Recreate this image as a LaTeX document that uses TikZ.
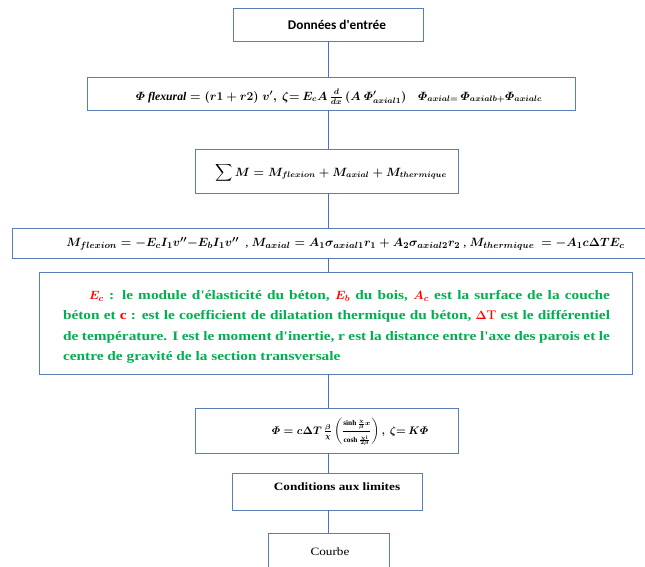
\documentclass[tikz,border=0pt]{standalone}
\usepackage{fontspec}
\usepackage{amsmath}
\setmainfont{Liberation Serif}
\newfontfamily\carlito{Carlito}
\newfontfamily\cambr[FakeStretch=1.18]{Liberation Serif}
\definecolor{bordc}{HTML}{5B7DB8}
\definecolor{linec}{HTML}{4472C4}
\definecolor{grn}{HTML}{00B050}
\definecolor{rd}{HTML}{FF0000}
\begin{document}
\begin{tikzpicture}[x=1pt,y=-1pt,
  box/.style={draw=bordc, line width=0.9pt, inner sep=0pt},
  conn/.style={draw=linec, line width=1pt},
  txt/.style={inner sep=0pt, font=\boldmath}]
\useasboundingbox (0,0) rectangle (645,567);
\fill[white] (0,0) rectangle (645,567);
\coordinate (axis) at (328,0);

% boxes
\node[box, minimum width=190pt, minimum height=33pt] (b1) at (328,24.5) {};
\node[box, minimum width=488pt, minimum height=33pt] (b2) at (331,93.5) {};
\node[box, minimum width=263pt, minimum height=44pt] (b3) at (326.5,171) {};
\node[box, minimum width=637pt, minimum height=30pt] (b4) at (331.3,243) {};
\node[box, minimum width=593pt, minimum height=102pt] (b5) at (335.5,323) {};
\node[box, minimum width=263pt, minimum height=45pt] (b6) at (326.5,430.5) {};
\node[box, minimum width=190pt, minimum height=37pt] (b7) at (327,491.5) {};
\node[box, minimum width=121pt, minimum height=47pt] (b8) at (328.5,556.5) {};

% connectors
\draw[conn] (b1.south -| axis) -- (b2.north -| axis);
\draw[conn] (b2.south -| axis) -- (b3.north -| axis);
\draw[conn] (b3.south -| axis) -- (b4.north -| axis);
\draw[conn] (b4.south -| axis) -- (b5.north -| axis);
\draw[conn] (b5.south -| axis) -- (b6.north -| axis);
\draw[conn] (b6.south -| axis) -- (b7.north -| axis);
\draw[conn] (b7.south -| axis) -- (b8.north -| axis);

% texts
\node[inner sep=0pt, font=\carlito\bfseries\fontsize{13.3}{15}\selectfont] (t1) at (337,25) {Données d'entrée};

\node[txt, font=\boldmath\fontsize{11.7}{13}\selectfont] (t2) at (339,97)
 {$\varPhi\ \mathit{flexural} = (r1 + r2)\; v',\ \zeta{=}\ E_cA\,\frac{d}{dx}\,(A\ \varPhi'_{axial1})\quad \varPhi_{axial=}\,\varPhi_{axialb+}\varPhi_{axialc}$};

\node[txt, font=\boldmath\fontsize{11.5}{13}\selectfont] (t3) at (331,173)
 {$\displaystyle\sum M = M_{flexion} + M_{axial} + M_{thermique}$};

\node[txt, font=\boldmath\fontsize{12.6}{14}\selectfont] (t4) at (345.5,244)
 {$M_{flexion} = -E_cI_1v''{-}E_bI_1v''$\ \ , $M_{axial} = A_1\sigma_{axial1}r_1 + A_2\sigma_{axial2}r_2$ , $M_{thermique}\ = -A_1c\Delta TE_c$};

\node[inner sep=0pt, text=grn, font=\cambr\bfseries\boldmath\fontsize{13}{20.5}\selectfont] (t5) at (336.5,327)
 {\parbox{547pt}{%
 \hbox to 547pt{\hspace*{26pt}\textcolor{rd}{$E_c$} : le module d'élasticité du béton, \textcolor{rd}{$E_b$} du bois, \textcolor{rd}{$A_c$} est la surface de la couche}%
 \hbox to 547pt{béton et \textcolor{rd}{c} : est le coefficient de dilatation thermique du béton, \textcolor{rd}{\mdseries $\unboldmath\Delta$T} est le différentiel}%
 \hbox to 547pt{de température. I est le moment d'inertie, r est la distance entre l'axe des parois et le}%
 \hbox{centre de gravité de la section transversale}}};

\node[txt, font=\boldmath\fontsize{10.5}{12}\selectfont] (t6) at (350,432)
 {$\varPhi = c\Delta T\,\frac{\beta}{\chi}\left(\dfrac{\scriptstyle\sinh\frac{\chi}{\beta}x}{\scriptstyle\cosh\frac{\chi l}{2\beta}}\right),\ \zeta{=}\ K\varPhi$};

\node[inner sep=0pt, font=\cambr\bfseries\fontsize{11.2}{13}\selectfont] (t7) at (337,487) {Conditions aux limites};
\node[inner sep=0pt, font=\cambr\fontsize{11.2}{13}\selectfont] (t8) at (330,552) {Courbe};
\end{tikzpicture}
\end{document}
